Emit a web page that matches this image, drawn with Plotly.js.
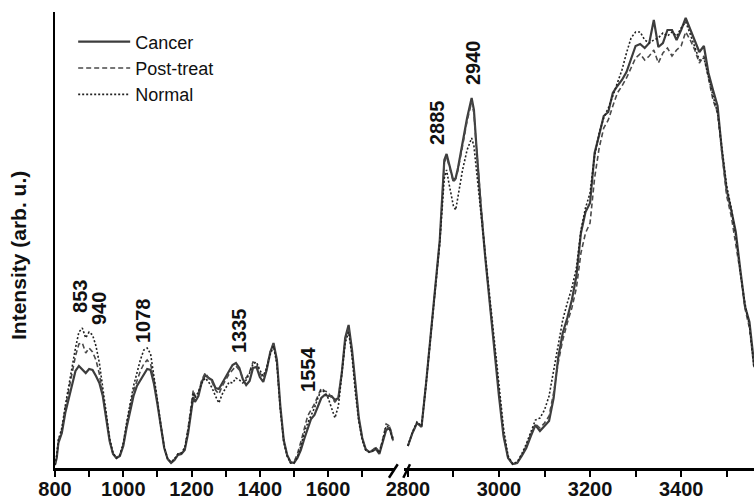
<!DOCTYPE html>
<html>
<head>
<meta charset="utf-8">
<script src="https://cdn.plot.ly/plotly-3.0.1.min.js"></script>
<style>html,body{margin:0;padding:0;background:#fff;}#chart{width:754px;height:501px;}</style>
</head>
<body>
<div id="chart"></div>
<script>
// Wavenumbers (cm-1), fingerprint region (left) and high-wavenumber region (right)
const leftWn = [800,805,810,820,830,840,850,860,870,880,890,900,910,920,930,940,950,960,970,980,990,1000,1010,1020,1030,1040,1050,1060,1070,1080,1090,1100,1110,1120,1130,1140,1150,1160,1170,1180,1190,1200,1205,1210,1220,1230,1240,1250,1260,1270,1280,1290,1300,1310,1320,1330,1340,1350,1360,1370,1380,1390,1400,1410,1420,1430,1440,1450,1460,1470,1480,1490,1500,1510,1520,1530,1540,1550,1560,1570,1580,1590,1600,1610,1620,1630,1640,1650,1660,1670,1680,1690,1700,1710,1720,1730,1740,1750,1760,1770,1780,1790];
const rightWn = [2800,2810,2820,2830,2840,2850,2860,2870,2880,2885,2890,2900,2905,2910,2920,2930,2940,2945,2950,2960,2970,2980,2990,3000,3010,3020,3030,3040,3050,3060,3070,3080,3090,3100,3110,3120,3130,3140,3150,3160,3170,3180,3190,3200,3210,3220,3230,3240,3250,3260,3270,3280,3290,3300,3310,3320,3330,3340,3350,3360,3370,3380,3390,3400,3410,3420,3430,3440,3450,3460,3470,3480,3490,3500,3510,3520,3530,3540,3550,3560];

const cancerLeft = [3,10,25,35,55,70,85,97,102,99,95,99,98,92,85,72,50,27,14,10,12,22,41,58,72,82,88,93,99,98,84,64,40,20,9,5,8,13,14,18,35,61,71,66,72,86,93,90,88,80,79,85,91,97,103,105,100,89,83,87,100,101,91,86,98,115,125,108,62,28,13,6,5,10,18,29,40,49,53,62,70,73,72,72,68,70,95,130,143,118,80,50,30,19,16,17,19,14,26,38,40,28];
const postLeft = [3,12,28,38,60,78,95,112,124,125,115,120,116,108,94,75,52,28,14,10,13,24,44,62,77,88,97,104,108,104,88,66,41,20,9,5,9,14,15,20,40,68,78,72,75,88,95,90,86,78,74,82,88,94,98,102,98,90,90,96,106,105,95,90,100,116,124,105,60,27,12,5,6,14,26,40,52,58,64,72,80,77,76,70,66,70,95,128,140,115,78,48,29,18,16,18,21,16,29,44,42,30];
const normalLeft = [3,12,28,40,62,82,100,120,136,140,130,136,133,122,105,80,55,30,15,10,13,25,46,66,82,95,108,118,120,114,92,68,42,21,9,6,9,14,15,20,38,65,75,70,76,85,90,86,80,72,65,74,80,86,85,90,88,85,88,95,104,106,98,92,100,113,122,104,58,26,12,5,5,11,22,35,45,52,60,70,78,76,70,60,50,62,92,125,136,112,75,46,28,18,16,17,20,15,28,42,40,27];

const cancerRight = [22,35,45,41,85,135,178,228,308,314,305,287,290,300,325,350,370,358,325,262,210,163,118,72,32,10,4,5,12,20,32,43,37,42,47,70,110,135,150,168,192,235,256,265,315,333,352,356,375,382,388,396,410,422,424,420,425,448,421,425,438,438,428,438,450,438,428,416,422,395,378,362,315,278,258,236,198,162,146,105];
const postRight = [22,35,45,42,85,134,177,226,305,311,303,286,289,298,322,347,366,355,323,262,211,165,120,75,34,10,4,5,13,22,34,44,40,45,52,75,105,128,145,160,180,215,235,245,290,320,340,348,362,375,382,390,400,410,414,408,412,418,405,415,420,412,418,422,436,428,418,405,412,388,368,355,312,272,252,225,195,160,140,100];
const normalRight = [22,36,46,42,84,132,175,225,290,298,285,262,258,272,298,318,330,322,300,255,212,168,125,82,40,12,4,6,14,24,36,48,50,58,72,98,125,148,165,180,200,238,260,275,312,335,350,360,372,385,398,415,430,436,436,428,425,428,430,435,432,436,432,440,446,434,420,408,410,390,372,355,320,282,260,232,195,165,142,100];

const seriesNames = ['Cancer','Post-treat','Normal'];
const peakLabels = ['853','940','1078','1335','1554','2885','2940'];
const peakLabelX = [873,929,1058,1339,1541,2864,2943];
const peakLabelY = [172,159,147,137,99,345,405];
const peakLabelAxis = ['x','x','x','x','x','x2','x2'];
const leftTicks = [800,1000,1200,1400,1600];
const rightTicks = [2800,3000,3200,3400];

const styles = [
  {color:'#3d3d3d', width:2.2, dash:'solid'},
  {color:'#4a4a4a', width:1.6, dash:'5px,3px'},
  {color:'#222222', width:1.6, dash:'2px,2px'}
];
const leftData = [cancerLeft, postLeft, normalLeft];
const rightData = [cancerRight, postRight, normalRight];

const traces = [];
for (let i = 0; i < 3; i++) {
  traces.push({x:leftWn, y:leftData[i], xaxis:'x', yaxis:'y', type:'scatter', mode:'lines',
    name:seriesNames[i], legendgroup:seriesNames[i], line:styles[i], hoverinfo:'skip'});
}
for (let i = 0; i < 3; i++) {
  traces.push({x:rightWn, y:rightData[i], xaxis:'x2', yaxis:'y', type:'scatter', mode:'lines',
    name:seriesNames[i], legendgroup:seriesNames[i], showlegend:false, line:styles[i], hoverinfo:'skip'});
}

const tickFont = {family:'Liberation Sans, Arial, sans-serif', size:20, color:'#111', weight:'bold'};
const axisCommon = {
  showline:true, linewidth:2.5, linecolor:'#000', ticks:'outside', ticklen:6, tickwidth:2, tickcolor:'#000',
  showgrid:false, zeroline:false, tickfont:tickFont, fixedrange:true, ticklabelstandoff:-5
};

const annotations = peakLabels.map((t, i) => ({
  text:t, x:peakLabelX[i], y:peakLabelY[i], xref:peakLabelAxis[i], yref:'y',
  showarrow:false, textangle:-90, xanchor:'center', yanchor:'middle',
  font:{family:'Liberation Sans, Arial, sans-serif', size:20, color:'#111', weight:'bold'}
}));
annotations.push({
  text:'Intensity (arb. u.)', xref:'paper', yref:'paper', x:-0.0515, y:0.465,
  showarrow:false, textangle:-90, xanchor:'center', yanchor:'middle',
  font:{family:'Liberation Sans, Arial, sans-serif', size:21, color:'#111', weight:'bold'}
});

const layout = {
  width:754, height:501,
  margin:{l:55, r:0, t:12, b:33},
  paper_bgcolor:'#fff', plot_bgcolor:'#fff',
  showlegend:true,
  legend:{x:0.026, y:0.975, xanchor:'left', yanchor:'top', bgcolor:'rgba(0,0,0,0)',
    font:{family:'Liberation Sans, Arial, sans-serif', size:18, color:'#111'}, itemwidth:52, tracegroupgap:0},
  xaxis:Object.assign({}, axisCommon, {domain:[0,0.485], range:[800,1793], tickmode:'array', tickvals:leftTicks,
    minor:{tickmode:'linear', tick0:800, dtick:100, ticks:'outside', ticklen:6, tickwidth:2, tickcolor:'#000'}}),
  xaxis2:Object.assign({}, axisCommon, {domain:[0.4993,1], range:[2791.5,3560], anchor:'y', tickmode:'array', tickvals:rightTicks,
    minor:{tickmode:'linear', tick0:2800, dtick:100, ticks:'outside', ticklen:6, tickwidth:2, tickcolor:'#000'}}),
  yaxis:{range:[0,456], showline:true, linewidth:2.5, linecolor:'#000', ticks:'', showticklabels:false,
    showgrid:false, zeroline:false, fixedrange:true},
  annotations:annotations,
  shapes:[
    {type:'line', xref:'paper', yref:'paper', x0:0.4778, y0:-0.0213, x1:0.4903, y1:0.0081, line:{color:'#000', width:2.5}, layer:'above'},
    {type:'line', xref:'paper', yref:'paper', x0:0.4983, y0:-0.0213, x1:0.5079, y1:0.0081, line:{color:'#000', width:2.5}, layer:'above'}
  ]
};

Plotly.newPlot('chart', traces, layout, {displayModeBar:false, staticPlot:true});
</script>
</body>
</html>
